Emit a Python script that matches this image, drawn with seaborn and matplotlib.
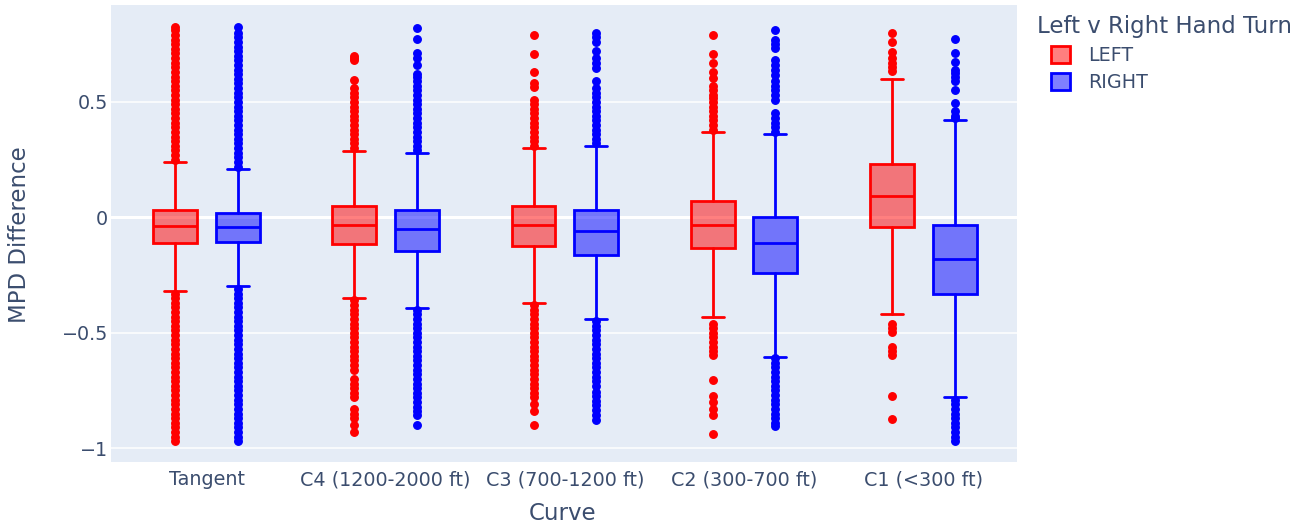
import matplotlib
matplotlib.use("Agg")
import matplotlib.pyplot as plt
from matplotlib.patches import Patch
from matplotlib.ticker import FuncFormatter
import seaborn as sns

# ---------------- data ----------------
categories = ["Tangent", "C4 (1200-2000 ft)", "C3 (700-1200 ft)", "C2 (300-700 ft)", "C1 (<300 ft)"]
series = ["LEFT", "RIGHT"]

left_q1 = [-0.112, -0.116, -0.122, -0.132, -0.043]
left_med = [-0.039, -0.032, -0.032, -0.032, 0.091]
left_q3 = [0.032, 0.049, 0.049, 0.070, 0.231]
left_lo = [-0.320, -0.351, -0.371, -0.431, -0.420]
left_hi = [0.240, 0.289, 0.299, 0.370, 0.599]

right_q1 = [-0.108, -0.144, -0.162, -0.243, -0.333]
right_med = [-0.041, -0.050, -0.059, -0.112, -0.181]
right_q3 = [0.020, 0.030, 0.030, 0.000, -0.032]
right_lo = [-0.298, -0.392, -0.441, -0.603, -0.780]
right_hi = [0.211, 0.279, 0.310, 0.361, 0.421]

left_fliers = [
    # Tangent
    [0.25, 0.27, 0.29, 0.31, 0.33, 0.35, 0.37, 0.39, 0.41, 0.43, 0.45, 0.47, 0.49, 0.51, 0.53,
     0.55, 0.57, 0.59, 0.61, 0.63, 0.65, 0.67, 0.69, 0.71, 0.73, 0.75, 0.77, 0.79, 0.81, 0.825,
     -0.33, -0.35, -0.37, -0.39, -0.41, -0.43, -0.45, -0.47, -0.49, -0.51, -0.53, -0.55, -0.57,
     -0.59, -0.61, -0.63, -0.65, -0.67, -0.69, -0.71, -0.73, -0.75, -0.77, -0.79, -0.81, -0.83,
     -0.85, -0.87, -0.89, -0.91, -0.93, -0.95, -0.968],
    # C4
    [0.30, 0.32, 0.34, 0.36, 0.38, 0.40, 0.42, 0.44, 0.46, 0.48, 0.50, 0.52, 0.54, 0.56, 0.596,
     0.68, 0.69, 0.70,
     -0.36, -0.38, -0.40, -0.42, -0.44, -0.46, -0.48, -0.50, -0.52, -0.54, -0.56, -0.58, -0.60,
     -0.62, -0.64, -0.66, -0.70, -0.72, -0.74, -0.76, -0.78, -0.83, -0.85, -0.87, -0.90, -0.93],
    # C3
    [0.31, 0.33, 0.35, 0.37, 0.39, 0.41, 0.43, 0.45, 0.47, 0.49, 0.51, 0.563, 0.58, 0.628,
     0.708, 0.79,
     -0.38, -0.40, -0.42, -0.44, -0.46, -0.48, -0.50, -0.52, -0.54, -0.56, -0.58, -0.60, -0.62,
     -0.64, -0.66, -0.68, -0.70, -0.72, -0.74, -0.76, -0.78, -0.81, -0.84, -0.90],
    # C2
    [0.38, 0.40, 0.42, 0.44, 0.46, 0.48, 0.50, 0.517, 0.532, 0.55, 0.567, 0.603, 0.63, 0.667,
     0.708, 0.79,
     -0.46, -0.48, -0.50, -0.52, -0.54, -0.56, -0.58, -0.596, -0.704, -0.776, -0.80, -0.83,
     -0.855, -0.94],
    # C1
    [0.632, 0.65, 0.67, 0.69, 0.717, 0.761, 0.80,
     -0.46, -0.48, -0.496, -0.56, -0.58, -0.596, -0.776, -0.872],
]

right_fliers = [
    # Tangent
    [0.22, 0.24, 0.26, 0.28, 0.30, 0.32, 0.34, 0.36, 0.38, 0.40, 0.42, 0.44, 0.46, 0.48, 0.50,
     0.52, 0.54, 0.56, 0.58, 0.60, 0.62, 0.64, 0.66, 0.68, 0.70, 0.72, 0.74, 0.76, 0.78, 0.80,
     0.825,
     -0.31, -0.33, -0.35, -0.37, -0.39, -0.41, -0.43, -0.45, -0.47, -0.49, -0.51, -0.53, -0.55,
     -0.57, -0.59, -0.61, -0.63, -0.65, -0.67, -0.69, -0.71, -0.73, -0.75, -0.77, -0.79, -0.81,
     -0.83, -0.85, -0.87, -0.89, -0.91, -0.93, -0.95, -0.968],
    # C4
    [0.29, 0.31, 0.33, 0.35, 0.37, 0.39, 0.41, 0.43, 0.45, 0.47, 0.49, 0.51, 0.53, 0.55, 0.57,
     0.59, 0.61, 0.62, 0.66, 0.69, 0.71, 0.772, 0.822,
     -0.40, -0.42, -0.44, -0.46, -0.48, -0.50, -0.52, -0.54, -0.56, -0.58, -0.60, -0.62, -0.64,
     -0.66, -0.68, -0.70, -0.72, -0.74, -0.76, -0.78, -0.80, -0.82, -0.84, -0.855, -0.90],
    # C3
    [0.32, 0.34, 0.36, 0.38, 0.40, 0.42, 0.44, 0.46, 0.48, 0.50, 0.52, 0.54, 0.56, 0.589,
     0.645, 0.67, 0.69, 0.72, 0.76, 0.78, 0.797,
     -0.45, -0.47, -0.49, -0.51, -0.53, -0.55, -0.57, -0.59, -0.61, -0.63, -0.65, -0.67, -0.69,
     -0.71, -0.73, -0.755, -0.775, -0.795, -0.815, -0.835, -0.855, -0.877],
    # C2
    [0.37, 0.39, 0.41, 0.43, 0.45, 0.51, 0.53, 0.55, 0.57, 0.59, 0.618, 0.64, 0.66, 0.68,
     0.733, 0.75, 0.77, 0.812,
     -0.61, -0.63, -0.65, -0.67, -0.69, -0.71, -0.73, -0.75, -0.77, -0.79, -0.81, -0.83, -0.85,
     -0.87, -0.89, -0.905],
    # C1
    [0.43, 0.44, 0.46, 0.496, 0.553, 0.59, 0.61, 0.625, 0.64, 0.675, 0.711, 0.772,
     -0.79, -0.81, -0.83, -0.85, -0.87, -0.89, -0.91, -0.93, -0.95, -0.97],
]

y_ticks = [-1, -0.5, 0, 0.5]
x_title = "Curve"
y_title = "MPD Difference"
legend_title = "Left v Right Hand Turn"

# ---------------- style ----------------
TEXT = "#3b4d6e"
BG = "#E5ECF6"
sns.set_theme(style="darkgrid", rc={
    "axes.facecolor": BG,
    "grid.color": "white",
    "grid.linewidth": 1.1,
    "figure.facecolor": "white",
})
plt.rcParams["font.family"] = ["DejaVu Sans"]
colors = sns.color_palette(["#FF0000", "#0000FF"])

fig = plt.figure(figsize=(12.96, 5.29), dpi=100)
ax = fig.add_axes([111 / 1296, 1 - 462 / 529, (1017 - 111) / 1296, (462 - 5) / 529])

box_w = 0.245
offset = 0.175


def make_stats(q1, med, q3, lo, hi, fl):
    return [dict(q1=a, med=b, q3=c, whislo=d, whishi=e, fliers=f)
            for a, b, c, d, e, f in zip(q1, med, q3, lo, hi, fl)]


groups = [
    (make_stats(left_q1, left_med, left_q3, left_lo, left_hi, left_fliers), -offset, colors[0]),
    (make_stats(right_q1, right_med, right_q3, right_lo, right_hi, right_fliers), offset, colors[1]),
]

for stats, off, col in groups:
    pos = [i + off for i in range(len(categories))]
    ax.bxp(stats, positions=pos, widths=box_w, capwidths=box_w / 2, patch_artist=True,
           manage_ticks=False,
           boxprops=dict(facecolor=(*col, 0.5), edgecolor=col, linewidth=2.0),
           medianprops=dict(color=col, linewidth=2.0),
           whiskerprops=dict(color=col, linewidth=2.0),
           capprops=dict(color=col, linewidth=2.0),
           flierprops=dict(marker="o", markerfacecolor=col, markeredgecolor=col,
                           markersize=5.4, linestyle="none"))

ax.axhline(0, color="white", linewidth=2.2, zorder=0.6)
ax.set_axisbelow(True)
ax.grid(axis="x", visible=False)
ax.set_xlim(-0.533, 4.523)
ax.set_ylim(-1.06, 0.92)
ax.set_xticks(range(len(categories)))
ax.set_xticklabels(categories)
ax.set_yticks(y_ticks)
ax.yaxis.set_major_formatter(FuncFormatter(lambda v, p: f"{v:g}".replace("-", "\u2212")))
ax.tick_params(axis="both", length=0, labelsize=13.8, labelcolor=TEXT)
ax.tick_params(axis="y", pad=2)
ax.tick_params(axis="x", pad=6)
for s in ax.spines.values():
    s.set_visible(False)

fig.text(563 / 1296, 1 - 514 / 529, x_title, ha="center", va="center", fontsize=16.5, color=TEXT)
fig.text(20 / 1296, 1 - 235 / 529, y_title, ha="center", va="center", rotation=90,
         fontsize=16.5, color=TEXT)

fig.text(1037 / 1296, 1 - 27 / 529, legend_title, ha="left", va="center", fontsize=16.5,
         color=TEXT)
handles = [Patch(facecolor=(*c, 0.5), edgecolor=c, linewidth=2.0, label=s)
           for s, c in zip(series, colors)]
leg = fig.legend(handles=handles, loc="upper left",
                 bbox_to_anchor=(1051 / 1296, 1 - 46 / 529), frameon=False,
                 fontsize=13.8, handlelength=1.0, handleheight=1.0,
                 handletextpad=0.95, labelspacing=0.42, borderaxespad=0, borderpad=0)
for t in leg.get_texts():
    t.set_color(TEXT)

fig.savefig("out.png", dpi=100)
